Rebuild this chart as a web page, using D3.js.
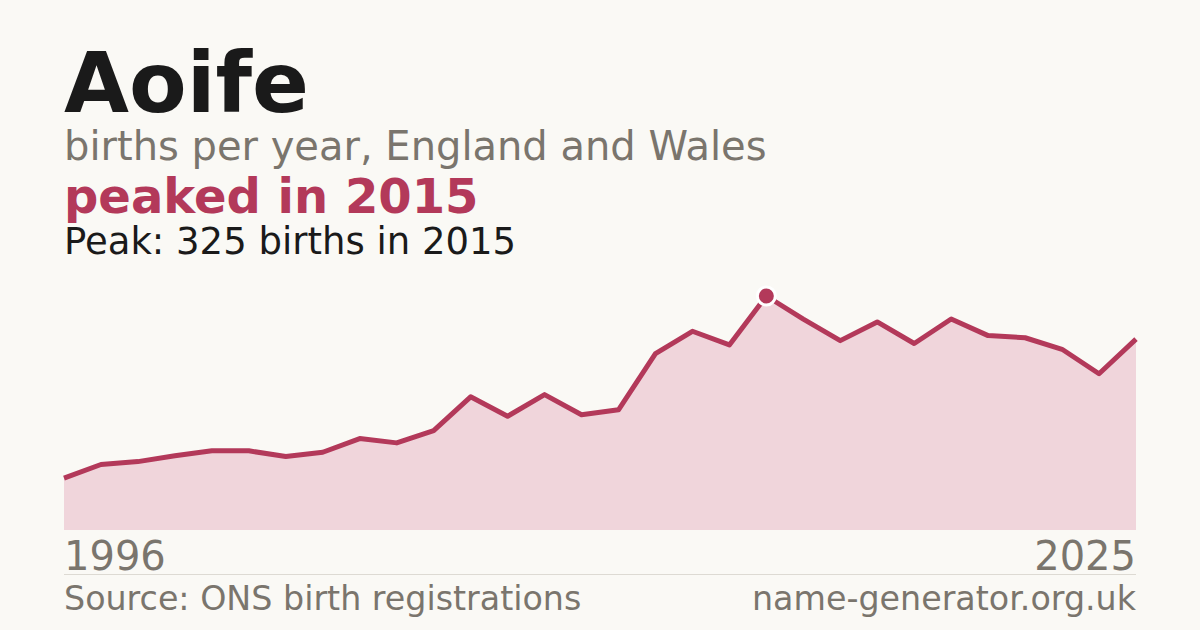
<!DOCTYPE html>
<html>
<head>
<meta charset="utf-8">
<script src="https://cdn.jsdelivr.net/npm/d3@7"></script>
<style>
  html, body { margin: 0; padding: 0; background: #faf9f5; }
  svg { display: block; font-family: "DejaVu Sans", sans-serif; }
</style>
</head>
<body>
<div id="chart"></div>
<script>
// Births per year for the name
const years = [1996, 1997, 1998, 1999, 2000, 2001, 2002, 2003, 2004, 2005,
               2006, 2007, 2008, 2009, 2010, 2011, 2012, 2013, 2014, 2015,
               2016, 2017, 2018, 2019, 2020, 2021, 2022, 2023, 2024, 2025];
const births = [72, 91, 95, 103, 110, 110, 102, 108, 127, 121,
                138, 185, 158, 188, 160, 167, 245, 276, 257, 325,
                293, 263, 289, 259, 293, 270, 267, 251, 217, 265];

const name = "Aoife";
const subtitle = "births per year, England and Wales";
const headline = "peaked in 2015";
const peakNote = "Peak: 325 births in 2015";
const source = "Source: ONS birth registrations";
const site = "name-generator.org.uk";

const width = 1200, height = 630;
const margin = { left: 64, right: 64 };
const plotTop = 296, plotBottom = 530;
const accent = "#b3395a";
const grey = "#7a756d";

const data = years.map((y, i) => ({ year: y, value: births[i] }));

const svg = d3.select("#chart").append("svg")
    .attr("width", width)
    .attr("height", height);

svg.append("rect")
    .attr("width", width)
    .attr("height", height)
    .attr("fill", "#faf9f5");

// Scales
const x = d3.scaleLinear()
    .domain(d3.extent(years))
    .range([margin.left, width - margin.right]);

const y = d3.scaleLinear()
    .domain([0, d3.max(births)])
    .range([plotBottom, plotTop]);

// Header text
svg.append("text")
    .attr("x", 64).attr("y", 112)
    .attr("font-size", 84)
    .attr("font-weight", "bold")
    .attr("fill", "#1a1a1a")
    .text(name);

svg.append("text")
    .attr("x", 64).attr("y", 160)
    .attr("font-size", 40)
    .attr("fill", grey)
    .text(subtitle);

svg.append("text")
    .attr("x", 64).attr("y", 213)
    .attr("font-size", 48)
    .attr("font-weight", "bold")
    .attr("fill", accent)
    .text(headline);

svg.append("text")
    .attr("x", 64).attr("y", 254)
    .attr("font-size", 37)
    .attr("fill", "#1a1a1a")
    .text(peakNote);

// Area + line
const area = d3.area()
    .x(d => x(d.year))
    .y0(y(0))
    .y1(d => y(d.value));

const line = d3.line()
    .x(d => x(d.year))
    .y(d => y(d.value));

svg.append("path")
    .datum(data)
    .attr("fill", "#f0d5db")
    .attr("d", area);

svg.append("path")
    .datum(data)
    .attr("fill", "none")
    .attr("stroke", accent)
    .attr("stroke-width", 5)
    .attr("stroke-linejoin", "round")
    .attr("d", line);

// Peak marker
const peak = data[d3.maxIndex(data, d => d.value)];
svg.append("circle")
    .attr("cx", x(peak.year))
    .attr("cy", y(peak.value))
    .attr("r", 9)
    .attr("fill", accent)
    .attr("stroke", "#ffffff")
    .attr("stroke-width", 3);

// Year labels at the ends
svg.append("text")
    .attr("x", x(years[0])).attr("y", 570)
    .attr("font-size", 40)
    .attr("fill", grey)
    .text(years[0]);

svg.append("text")
    .attr("x", x(years[years.length - 1])).attr("y", 570)
    .attr("font-size", 40)
    .attr("text-anchor", "end")
    .attr("fill", grey)
    .text(years[years.length - 1]);

// Footer rule and text
svg.append("line")
    .attr("x1", margin.left).attr("x2", width - margin.right)
    .attr("y1", 574.5).attr("y2", 574.5)
    .attr("stroke", "#dddad3")
    .attr("stroke-width", 1);

svg.append("text")
    .attr("x", 64).attr("y", 610)
    .attr("font-size", 33.3)
    .attr("fill", grey)
    .text(source);

svg.append("text")
    .attr("x", width - margin.right).attr("y", 610)
    .attr("font-size", 33.3)
    .attr("text-anchor", "end")
    .attr("fill", grey)
    .text(site);
</script>
</body>
</html>
